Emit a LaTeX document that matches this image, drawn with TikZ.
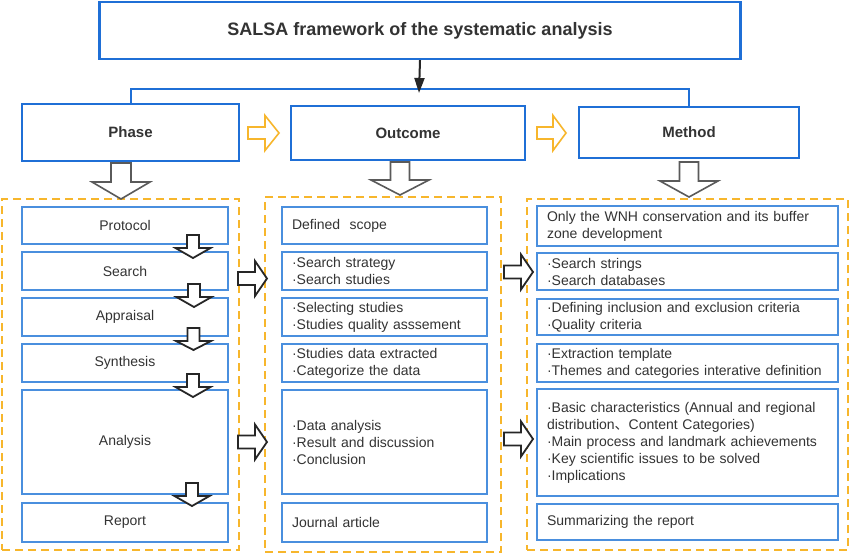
\documentclass[tikz,border=0pt]{standalone}
\usepackage{fontspec}
\setmainfont{Liberation Sans}
\newfontfamily\cjk{Noto Sans CJK SC}
\usetikzlibrary{arrows.meta}
\definecolor{hblue}{HTML}{1F6FD6}
\definecolor{iblue}{HTML}{4A8FDE}
\definecolor{dyellow}{HTML}{F7B62C}
\definecolor{txt}{HTML}{333333}
\definecolor{garr}{HTML}{5A5A5A}
\newcommand\downarr[7]{\draw[#1] ({#2-#6},#3) -- ({#2+#6},#3) -- ({#2+#6},#4) -- ({#2+#7},#4) -- (#2,#5) -- ({#2-#7},#4) -- ({#2-#6},#4) -- cycle;}
\newcommand\rightarr[7]{\draw[#1] (#3,{#2-#6}) -- (#4,{#2-#6}) -- (#4,{#2-#7}) -- (#5,#2) -- (#4,{#2+#7}) -- (#4,{#2+#6}) -- (#3,{#2+#6}) -- cycle;}
\tikzset{
  titlebox/.style={draw=hblue, line width=2.2pt, fill=white, inner sep=0pt, text=txt,
     font=\fontsize{18}{21}\selectfont\bfseries},
  hdrbox/.style={draw=hblue, line width=2pt, fill=white, inner sep=0pt, text=txt,
     font=\fontsize{15}{18}\selectfont\bfseries},
  ibox/.style={draw=iblue, line width=1.2pt, fill=white, inner sep=0pt, text=txt,
     font=\fontsize{14}{17}\selectfont},
  lbox/.style={ibox, align=left, inner xsep=10pt, inner ysep=0pt},
  dashbox/.style={draw=dyellow, line width=2pt, dash pattern=on 8pt off 5pt, inner sep=0pt},
  hdrline/.style={draw=hblue, line width=2pt},
  yarrow/.style={draw=dyellow, line width=1.6pt, fill=white, line join=miter},
  garrow/.style={draw=garr, line width=1.6pt, fill=white, line join=miter},
  karrow/.style={draw=black!85, line width=1.8pt, fill=white, line join=miter},
}
\begin{document}
\begin{tikzpicture}[x=1pt,y=-1pt]
\useasboundingbox (0,0) rectangle (850,554);
\fill[white] (0,0) rectangle (850,554);

% title
\node[titlebox, minimum width=641pt, minimum height=57pt] (title) at (420,30.5) {SALSA framework of the systematic analysis};

% headers
\node[hdrbox, minimum width=217pt, minimum height=57pt] (phase) at (130.5,132.5) {Phase};
\node[hdrbox, minimum width=234pt, minimum height=54pt] (outcome) at (408,133) {Outcome};
\node[hdrbox, minimum width=220pt, minimum height=51pt] (method) at (689,132.5) {Method};

\coordinate (conn) at (419,89);
\coordinate (tipc) at (419,93);
\draw[hdrline] (phase.north) |- (conn) -| (method.north);
\draw[draw=black!85, line width=2pt, -{Triangle[length=15pt,width=10pt]}] (title.south) -- (tipc);

% yellow arrows
\rightarr{yarrow}{133}{248}{265}{279}{6}{17.5}
\rightarr{yarrow}{133}{537}{553}{566}{6}{17.5}

% dashed containers
\node[dashbox, minimum width=237pt, minimum height=351pt] (colA) at (120.5,374.5) {};
\node[dashbox, minimum width=236pt, minimum height=355pt] (colB) at (383,374.5) {};
\node[dashbox, minimum width=321pt, minimum height=351pt] (colC) at (687.5,374.5) {};

% gray header arrows
\downarr{garrow}{121}{163}{182}{199}{10}{29}
\downarr{garrow}{400}{162}{180}{195}{9.5}{29}
\downarr{garrow}{689}{162}{181}{197}{9.5}{29}

% phase column
\node[ibox, minimum width=206pt, minimum height=37pt] (p1) at (125,225.5) {Protocol};
\node[ibox, minimum width=206pt, minimum height=38pt] (p2) at (125,271) {Search};
\node[ibox, minimum width=206pt, minimum height=38pt] (p3) at (125,317) {Appraisal};
\node[ibox, minimum width=206pt, minimum height=38pt] (p4) at (125,363) {Synthesis};
\node[ibox, minimum width=206pt, minimum height=104pt] (p5) at (125,442) {Analysis};
\node[ibox, minimum width=206pt, minimum height=39pt] (p6) at (125,522.5) {Report};

% outcome column
\node[lbox, text width=185pt, minimum height=37pt] (o1) at (384.5,225.5) {Defined\ \ scope};
\node[lbox, text width=185pt, minimum height=38pt] (o2) at (384.5,271) {·Search strategy\\·Search studies};
\node[lbox, text width=185pt, minimum height=38pt] (o3) at (384.5,317) {·Selecting studies\\·Studies quality asssement};
\node[lbox, text width=185pt, minimum height=38pt] (o4) at (384.5,363) {·Studies data extracted\\·Categorize the data};
\node[lbox, text width=185pt, minimum height=104pt] (o5) at (384.5,442) {·Data analysis\\·Result and discussion\\·Conclusion};
\node[lbox, text width=185pt, minimum height=39pt] (o6) at (384.5,522.5) {Journal article};

% method column
\node[lbox, text width=281pt, minimum height=40pt] (m1) at (687.5,226) {Only the WNH conservation and its buffer\\zone development};
\node[lbox, text width=281pt, minimum height=37pt] (m2) at (687.5,271.5) {·Search strings\\·Search databases};
\node[lbox, text width=281pt, minimum height=36pt] (m3) at (687.5,317) {·Defining inclusion and exclusion criteria\\·Quality criteria};
\node[lbox, text width=281pt, minimum height=38pt] (m4) at (687.5,363) {·Extraction template\\·Themes and categories interative definition};
\node[lbox, text width=281pt, minimum height=107pt] (m5) at (687.5,442.5) {·Basic characteristics (Annual and regional\\distribution{\cjk 、}Content Categories)\\·Main process and landmark achievements\\·Key scientific issues to be solved\\·Implications};
\node[lbox, text width=281pt, minimum height=36pt] (m6) at (687.5,522) {Summarizing the report};

% inner down arrows
\downarr{karrow}{193}{235}{248}{258}{6}{17.5}
\downarr{karrow}{194}{284}{297}{307}{6}{17.5}
\downarr{karrow}{193.5}{328}{341}{350}{6}{17.5}
\downarr{karrow}{193}{374}{387}{397}{6}{17.5}
\downarr{karrow}{192}{483}{496}{506}{6}{17.5}

% right arrows
\rightarr{karrow}{278.5}{238}{255}{267}{6.5}{17.5}
\rightarr{karrow}{442}{238}{255}{267}{6.5}{17.5}
\rightarr{karrow}{272}{504}{521}{533}{6.5}{17.5}
\rightarr{karrow}{439}{504}{521}{533}{6.5}{17.5}
\end{tikzpicture}
\end{document}
